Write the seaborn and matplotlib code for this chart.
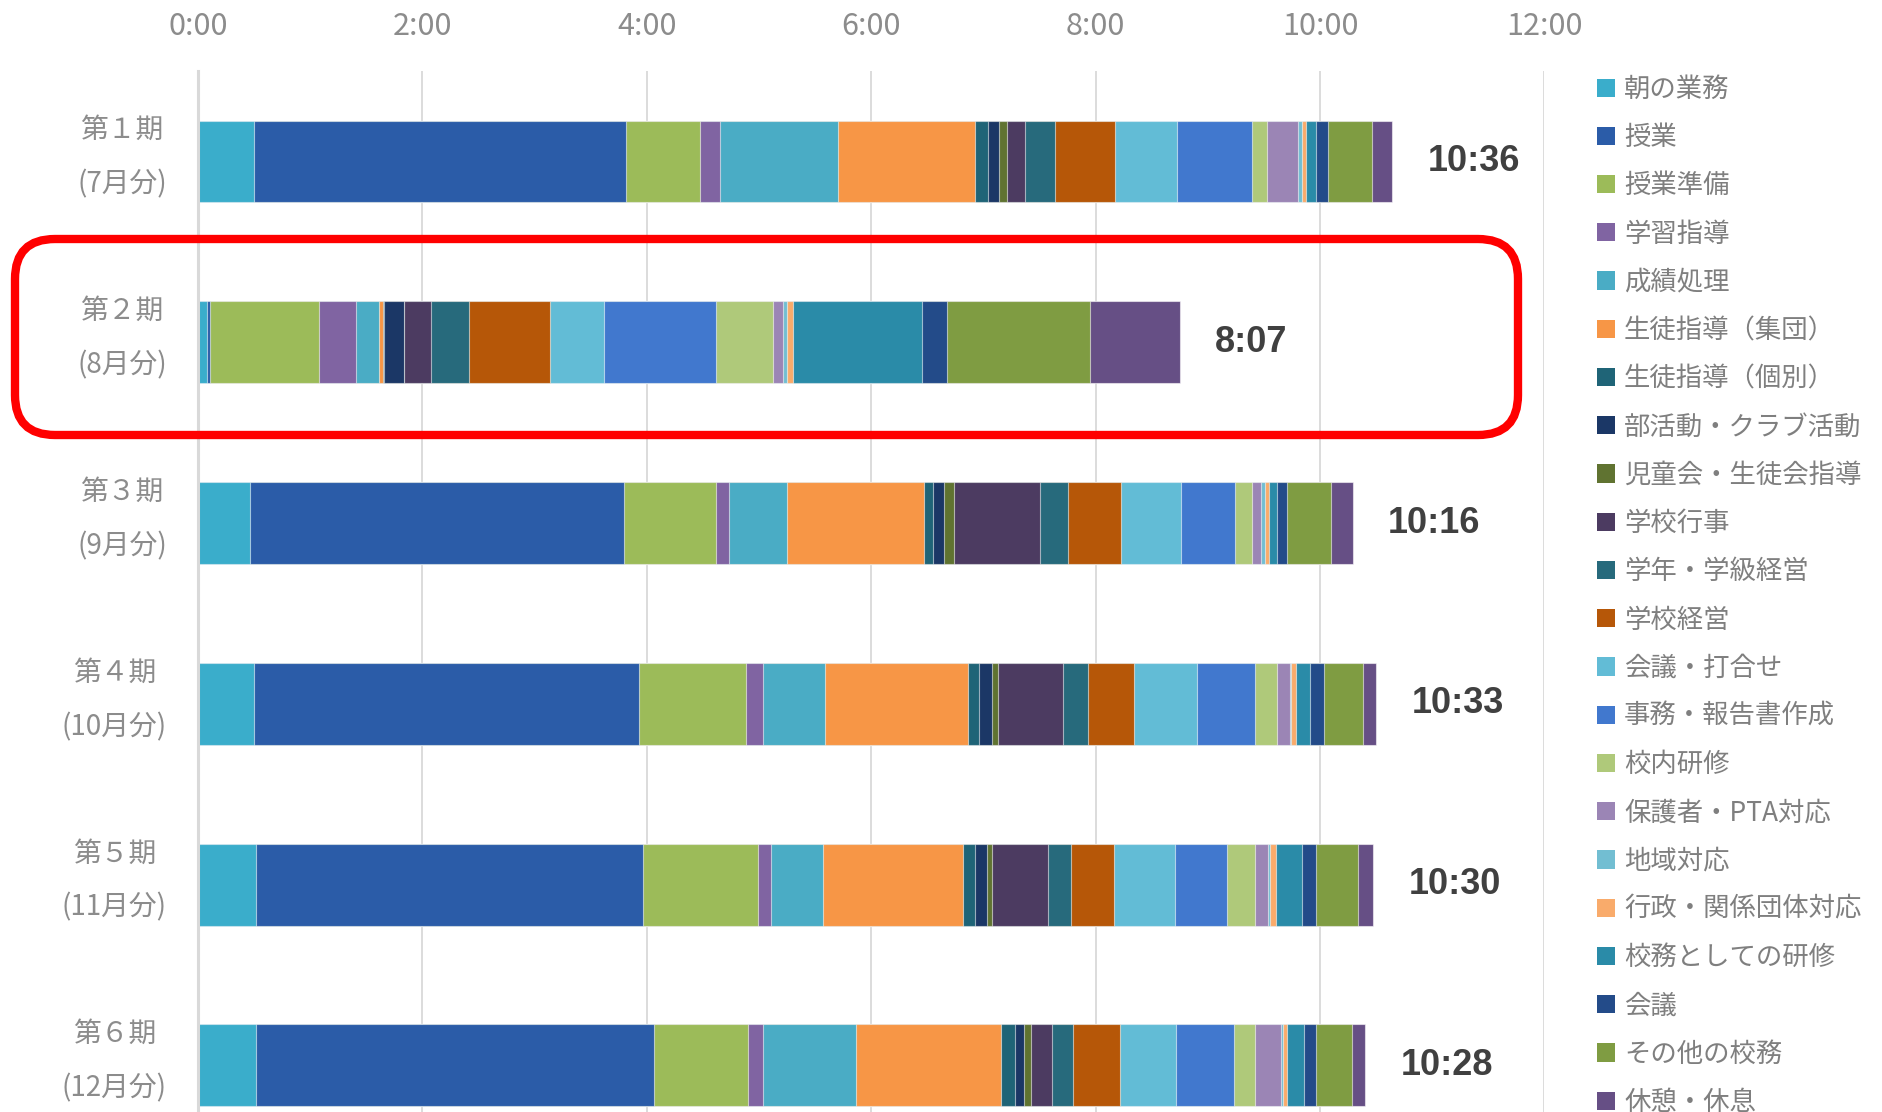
import numpy as np
import matplotlib
matplotlib.use("Agg")
import matplotlib.pyplot as plt
from matplotlib import font_manager as fm
from matplotlib.patches import Patch, FancyBboxPatch
import seaborn as sns

# ---- data: minutes per task, one value per period ----
periods = ["第１期\n(7月分)", "第２期\n(8月分)", "第３期\n(9月分)",
           "第４期\n(10月分)", "第５期\n(11月分)", "第６期\n(12月分)"]
total_minutes = [636, 487, 616, 633, 630, 628]

tasks = ["朝の業務", "授業", "授業準備", "学習指導", "成績処理",
         "生徒指導（集団）", "生徒指導（個別）", "部活動・クラブ活動",
         "児童会・生徒会指導", "学校行事", "学年・学級経営", "学校経営",
         "会議・打合せ", "事務・報告書作成", "校内研修", "保護者・PTA対応",
         "地域対応", "行政・関係団体対応", "校務としての研修", "会議",
         "その他の校務", "休憩・休息"]

morning_duties   = [29.8, 4.8, 27.9, 29.8, 31.0, 31.0]
classes          = [199.1, 1.7, 200.0, 206.0, 207.0, 212.9]
class_prep       = [39.6, 58.2, 49.2, 57.3, 61.4, 50.1]
study_guidance   = [10.7, 20.1, 6.9, 9.1, 6.9, 8.1]
grading          = [63.0, 12.2, 31.0, 33.2, 27.9, 49.7]
guidance_group   = [73.3, 2.1, 73.3, 76.2, 74.8, 77.8]
guidance_indiv   = [6.9, 0.5, 5.0, 6.2, 6.7, 7.4]
club_activities  = [6.0, 10.5, 5.5, 6.7, 6.2, 4.8]
student_council  = [4.1, 0.0, 5.7, 3.3, 2.9, 3.8]
school_events    = [10.0, 14.8, 45.8, 34.9, 29.9, 11.0]
grade_class_mgmt = [16.0, 20.1, 15.0, 13.4, 12.4, 11.2]
school_mgmt      = [31.7, 43.2, 28.2, 24.6, 22.7, 25.1]
meetings_short   = [33.2, 29.1, 32.0, 33.4, 32.5, 30.1]
paperwork        = [40.1, 59.9, 28.9, 31.0, 27.7, 30.8]
inschool_train   = [8.1, 30.1, 9.1, 11.9, 15.3, 11.2]
parents_pta      = [16.7, 5.7, 4.8, 6.9, 6.9, 14.1]
community        = [1.9, 2.1, 2.1, 0.7, 1.2, 1.2]
admin_bodies     = [2.4, 3.1, 2.1, 2.4, 2.9, 1.9]
duty_training    = [5.0, 68.8, 4.3, 7.9, 13.9, 9.1]
meetings         = [6.9, 13.4, 5.5, 7.4, 7.9, 6.7]
other_duties     = [23.2, 76.4, 23.4, 20.8, 22.4, 19.1]
breaks           = [11.0, 48.2, 11.7, 6.9, 7.9, 6.9]

series = [morning_duties, classes, class_prep, study_guidance, grading,
          guidance_group, guidance_indiv, club_activities, student_council,
          school_events, grade_class_mgmt, school_mgmt, meetings_short,
          paperwork, inschool_train, parents_pta, community, admin_bodies,
          duty_training, meetings, other_duties, breaks]

colors = ["#3aadcb", "#2b5ca8", "#9cbb59", "#8064a2", "#4aacc5", "#f79646",
          "#1f6477", "#1b3766", "#607331", "#4c3b61", "#276a7c", "#b65708",
          "#62bcd6", "#4178ce", "#afc97a", "#9b85b5", "#72bed2", "#f9ab6b",
          "#2a8ba8", "#234b89", "#7f9c42", "#664f85"]

# ---- styling ----
sns.set_theme(style="white")
plt.rcParams["font.family"] = ["Noto Sans CJK JP", "DejaVu Sans"]

installed = {f.name for f in fm.fontManager.ttflist}
label_family = ["Liberation Sans Narrow"] if "Liberation Sans Narrow" in installed else ["Liberation Sans"]
label_family = label_family + ["DejaVu Sans"]

fig = plt.figure(figsize=(18.83, 11.12), dpi=100)
ax = fig.add_axes([0.1051, -0.0394, 0.7151, 0.9755])

values = np.array(series).T          # shape (periods, tasks)
cum = np.cumsum(values, axis=1)

# stacked bars: draw cumulative totals from the longest down so each task shows its own span
for i in reversed(range(len(tasks))):
    sns.barplot(x=cum[:, i], y=periods, order=periods, orient="h",
                color=colors[i], saturation=1, width=0.453,
                edgecolor=(1, 1, 1, 0.55), linewidth=0.8,
                errorbar=None, ax=ax)

ax.set_xlim(0, 720)
ax.set_ylim(5.5, -0.5)
ax.set_xlabel("")
ax.set_ylabel("")

ticks = np.arange(0, 721, 120)
ax.set_xticks(ticks)
ax.set_xticklabels([f"{t // 60}:00" for t in ticks])
ax.xaxis.tick_top()
ax.tick_params(axis="x", length=0, pad=21, labelsize=22, labelcolor="#8c8c8c")

# period labels: two centred lines, right-aligned against the axis
ax.set_yticks(range(len(periods)))
ax.set_yticklabels([])
ax.tick_params(axis="y", length=0)
for k, name in enumerate(periods):
    ax.annotate(name, xy=(0, k), xycoords=("axes fraction", "data"),
                xytext=(-31, 4), textcoords="offset pixels",
                ha="right", va="center", multialignment="center",
                linespacing=2.06, fontsize=20, color="#8c8c8c")

for s in ["top", "right", "bottom"]:
    ax.spines[s].set_visible(False)
ax.spines["left"].set_color("#d9d9d9")
ax.spines["left"].set_linewidth(2.2)
ax.grid(axis="x", color="#d9d9d9", linewidth=1.3)
ax.grid(axis="y", visible=False)
ax.set_axisbelow(True)

# total working time next to each bar
for k, m in enumerate(total_minutes):
    ax.text(cum[k, -1] + 19, k, f"{m // 60}:{m % 60:02d}", ha="left", va="center",
            fontsize=26, fontweight="bold", color="#404040", family=label_family)

# legend
handles = [Patch(facecolor=c, edgecolor="none") for c in colors]
fig.legend(handles, tasks, loc="upper left", bbox_to_anchor=(0.848, 0.9318),
           frameon=False, fontsize=19, handlelength=0.68, handleheight=0.68,
           handletextpad=0.35, labelspacing=0.805, borderpad=0, borderaxespad=0,
           labelcolor="#7f7f7f")

# highlight frame around the second period
overlay = fig.add_axes([0, 0, 1, 1], zorder=10)
overlay.set_xlim(0, 1883)
overlay.set_ylim(1112, 0)
overlay.set_facecolor("none")
overlay.axis("off")
overlay.add_patch(FancyBboxPatch((15, 239), 1503, 196,
                                 boxstyle="round,pad=0,rounding_size=40",
                                 fill=False, edgecolor="#ff0000", linewidth=6))

fig.savefig("out.png", dpi=100)
